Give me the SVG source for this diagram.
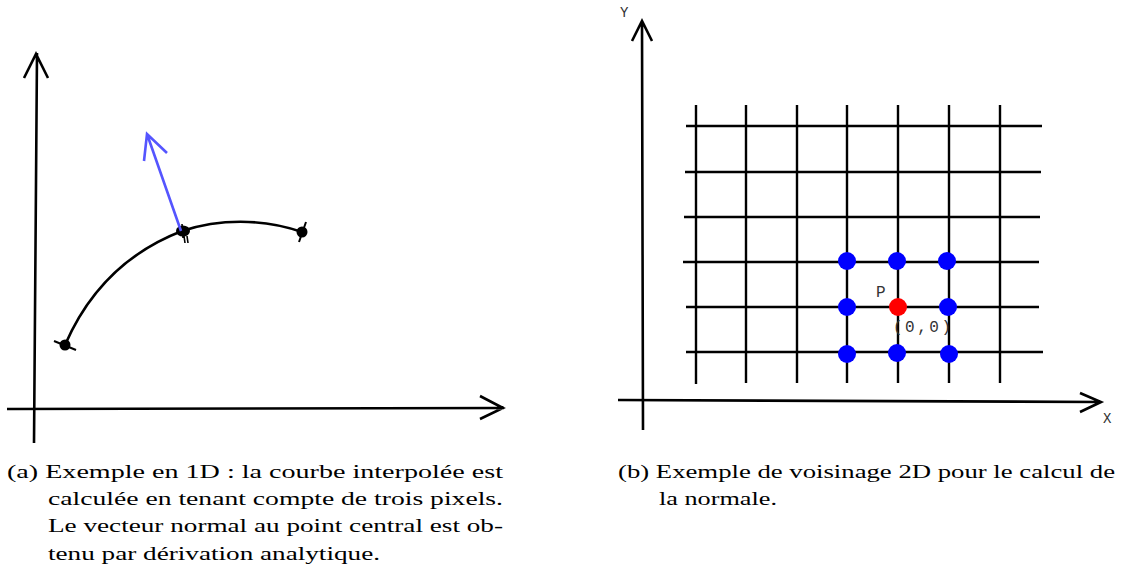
<svg xmlns="http://www.w3.org/2000/svg" width="1125" height="583" viewBox="0 0 1125 583">
<style>
.ax{fill:none;stroke:#000;stroke-width:2.6;stroke-linecap:butt;stroke-linejoin:miter}
.grid{stroke:#000;stroke-width:2.4;fill:none}
.nb{fill:#0000ff}
</style>
<rect width="1125" height="583" fill="#fff"/>
<g id="panel-a">
  <g id="axes-a">
    <path class="ax" d="M34,443 L37,53 M24,78 L36,54 L48,78"/>
    <path class="ax" d="M7,409 L504,408 M480,396 L503,408 L480,419"/>
  </g>
  <g id="curve">
    <path d="M65,345 C88,292 125,253 182,231 C218,219 262,218 302,232" fill="none" stroke="#000" stroke-width="2.6"/>
  </g>
  <g id="pt1">
    <circle cx="65" cy="345" r="5.5" fill="#000"/>
    <path d="M54,341 L76,350" stroke="#000" stroke-width="2"/>
  </g>
  <g id="pt2">
    <ellipse cx="183" cy="231" rx="7" ry="5.5" fill="#000"/>
    <path d="M182,224 L183,238 M184,236 L185,243 M187,236 L188,243" stroke="#000" stroke-width="1.6"/>
  </g>
  <g id="pt3">
    <circle cx="302" cy="232" r="5.5" fill="#000"/>
    <path d="M306,222 L299,242" stroke="#000" stroke-width="2"/>
  </g>
  <g id="normal">
    <path d="M181,231 L147,134 M144,161 L147,134 L167,153" fill="none" stroke="#5555ff" stroke-width="2.6"/>
  </g>
</g>
<g id="panel-b">
  <g id="axes-b">
    <path class="ax" d="M643,430 L642,21 M632,41 L642,21 L652,41"/>
    <path class="ax" d="M618,400 L1101,402 M1080,393 L1101,402 L1080,412"/>
    <g font-family="Liberation Mono, DejaVu Sans Mono, monospace" font-size="14" fill="#333">
      <text x="620" y="17">Y</text>
      <text x="1103" y="423">X</text>
    </g>
  </g>
  <g id="grid">
    <path class="grid" d="M696,105 V384 M746,105 V383 M797,105 V383 M847,105 V383 M898,105 V383 M949,105 V383 M1000,105 V383"/>
    <path class="grid" d="M686,126 H1042 M685,172 H1041 M684,217 H1040 M683,262 H1039 M686,307 H1039 M686,352 H1043"/>
  </g>
  <g id="neighbours">
    <circle class="nb" cx="847" cy="261" r="9"/>
    <circle class="nb" cx="897" cy="261" r="9"/>
    <circle class="nb" cx="947" cy="261" r="9"/>
    <circle class="nb" cx="847" cy="307" r="9"/>
    <circle class="nb" cx="948" cy="307" r="9"/>
    <circle class="nb" cx="847" cy="354" r="9"/>
    <circle class="nb" cx="897" cy="353" r="9"/>
    <circle class="nb" cx="949" cy="354" r="9"/>
  </g>
  <g id="center">
    <circle cx="898" cy="307" r="9" fill="#ff0000"/>
    <g font-family="Liberation Mono, DejaVu Sans Mono, monospace" font-size="16" fill="#333">
      <text x="876" y="297">P</text>
      <text x="893" y="332" textLength="58" lengthAdjust="spacing">(0,0)</text>
    </g>
  </g>
</g>
<g id="captions" font-family="Liberation Serif, DejaVu Serif, serif" font-size="18" fill="#000">
  <text x="7" y="478" textLength="496" lengthAdjust="spacingAndGlyphs">(a) Exemple en 1D : la courbe interpolée est</text>
  <text x="48" y="505" textLength="455" lengthAdjust="spacingAndGlyphs">calculée en tenant compte de trois pixels.</text>
  <text x="48" y="532" textLength="455" lengthAdjust="spacingAndGlyphs">Le vecteur normal au point central est ob-</text>
  <text x="48" y="560" textLength="332" lengthAdjust="spacingAndGlyphs">tenu par dérivation analytique.</text>
  <text x="618" y="478" textLength="497" lengthAdjust="spacingAndGlyphs">(b) Exemple de voisinage 2D pour le calcul de</text>
  <text x="659" y="505" textLength="118" lengthAdjust="spacingAndGlyphs">la normale.</text>
</g>
</svg>
